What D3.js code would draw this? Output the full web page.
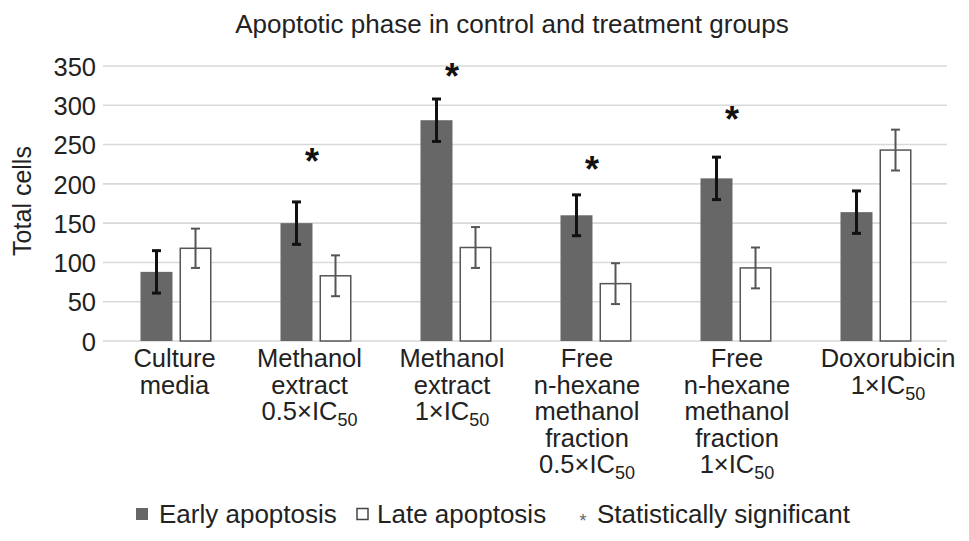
<!DOCTYPE html>
<html>
<head>
<meta charset="utf-8">
<script src="https://cdn.jsdelivr.net/npm/d3@7"></script>
<style>
  html, body { margin: 0; padding: 0; background: #fff; }
  svg { display: block; font-family: "Liberation Sans", Arial, Helvetica, sans-serif; }
</style>
</head>
<body>
<svg id="chart" width="969" height="541"></svg>
<script>
// ---- data ----
const categories = ["Culture media", "Methanol extract 0.5×IC50", "Methanol extract 1×IC50",
  "Free n-hexane methanol fraction 0.5×IC50", "Free n-hexane methanol fraction 1×IC50", "Doxorubicin 1×IC50"];
const labelLines = [
  ["Culture", "media"],
  ["Methanol", "extract", "0.5×IC|50"],
  ["Methanol", "extract", "1×IC|50"],
  ["Free", "n-hexane", "methanol", "fraction", "0.5×IC|50"],
  ["Free", "n-hexane", "methanol", "fraction", "1×IC|50"],
  ["Doxorubicin", "1×IC|50"]
];
const seriesNames = ["Early apoptosis", "Late apoptosis"];
const earlyValues = [88, 150, 281, 160, 207, 164];
const earlyErrors = [27, 27, 27, 26, 27, 27];
const lateValues = [118, 83, 119, 73, 93, 243];
const lateErrors = [25, 26, 26, 26, 26, 26];
const sigMarkLevel = [null, 237, 345, 227, 290, null];
const yTicks = [0, 50, 100, 150, 200, 250, 300, 350];
const titleText = "Apoptotic phase in control and treatment groups";
const yAxisTitle = "Total cells";
const sigLegend = "Statistically significant";

// ---- layout ----
const labelNudge = [-1.5, -6.5, -4, -9, 1, 12];
const svg = d3.select("#chart");
svg.append("rect").attr("width", 969).attr("height", 541).attr("fill", "#fff");

const y = d3.scaleLinear().domain([0, 350]).range([341, 66]);
const x0 = d3.scaleBand().domain(categories).range([106, 946]).padding(0);
const half = 35.5;
const x1 = d3.scaleBand().domain(["early", "late"])
  .range([x0.bandwidth() / 2 - half, x0.bandwidth() / 2 + half]).paddingInner(0.18);

const rows = categories.map((c, i) => ({
  cat: c, i,
  bars: [
    { key: "early", v: earlyValues[i], e: earlyErrors[i] },
    { key: "late", v: lateValues[i], e: lateErrors[i] }
  ]
}));

// y axis labels
const yAxis = d3.axisLeft(y).tickValues(yTicks).tickSize(0).tickPadding(0);
const gAxis = svg.append("g").attr("transform", "translate(96,0)").call(yAxis);
gAxis.select(".domain").remove();
gAxis.selectAll("text").attr("font-size", 25.5).attr("fill", "#222")
  .attr("font-family", "Liberation Sans, Arial, sans-serif").attr("dy", "0.36em");

// gridlines
svg.append("g").selectAll("line").data(yTicks).join("line")
  .attr("x1", 103).attr("x2", 947)
  .attr("y1", d => y(d)).attr("y2", d => y(d))
  .attr("stroke", "#d9d9d9").attr("stroke-width", 1.6);

// bars
const groups = svg.append("g").selectAll("g").data(rows).join("g")
  .attr("transform", d => `translate(${x0(d.cat)},0)`);

groups.selectAll("rect").data(d => d.bars).join("rect")
  .attr("x", d => x1(d.key) + (d.key === "late" ? 0.75 : 0))
  .attr("width", d => x1.bandwidth() - (d.key === "late" ? 1.5 : 0))
  .attr("y", d => y(d.v))
  .attr("height", d => y(0) - y(d.v))
  .attr("fill", d => d.key === "early" ? "#676767" : "#fff")
  .attr("stroke", d => d.key === "early" ? "none" : "#555")
  .attr("stroke-width", 1.5);

// error bars
const eb = groups.selectAll("g.err").data(d => d.bars).join("g").attr("class", "err")
  .attr("stroke", d => d.key === "early" ? "#111" : "#555")
  .attr("stroke-width", d => d.key === "early" ? 3 : 2);
const cx = d => x1(d.key) + x1.bandwidth() / 2;
eb.append("line")
  .attr("x1", cx).attr("x2", cx)
  .attr("y1", d => y(d.v + d.e)).attr("y2", d => y(d.v - d.e));
eb.append("line")
  .attr("x1", d => cx(d) - 4.5).attr("x2", d => cx(d) + 4.5)
  .attr("y1", d => y(d.v + d.e)).attr("y2", d => y(d.v + d.e));
eb.append("line")
  .attr("x1", d => cx(d) - 4.5).attr("x2", d => cx(d) + 4.5)
  .attr("y1", d => y(d.v - d.e)).attr("y2", d => y(d.v - d.e));

// significance asterisks
svg.append("g").selectAll("text").data(rows.filter(d => sigMarkLevel[d.i] != null)).join("text")
  .attr("x", d => x0(d.cat) + x0.bandwidth() / 2 - 4)
  .attr("y", d => y(sigMarkLevel[d.i]) + 19)
  .attr("text-anchor", "middle")
  .attr("font-size", 36).attr("font-weight", "bold").attr("fill", "#111")
  .text("*");

// x labels
const lineH = 26.5;
const xl = svg.append("g").selectAll("text").data(rows).join("text")
  .attr("text-anchor", "middle")
  .attr("font-size", 25.5).attr("fill", "#222");
xl.each(function(d) {
  const t = d3.select(this);
  const lx = x0(d.cat) + x0.bandwidth() / 2 + labelNudge[d.i];
  labelLines[d.i].forEach((ln, k) => {
    const parts = ln.split("|");
    t.append("tspan").attr("x", lx).attr("y", 367 + k * lineH).text(parts[0]);
    if (parts[1]) {
      t.append("tspan").attr("dy", 6).attr("font-size", 18).text(parts[1]);
    }
  });
});

// y axis title
svg.append("text")
  .attr("transform", "translate(31,201) rotate(-90)")
  .attr("text-anchor", "middle").attr("font-size", 25).attr("fill", "#222")
  .text(yAxisTitle);

// title
svg.append("text").attr("x", 512).attr("y", 33)
  .attr("text-anchor", "middle").attr("font-size", 26).attr("fill", "#222")
  .text(titleText);

// legend
const leg = svg.append("g");
leg.append("rect").attr("x", 136).attr("y", 508).attr("width", 12).attr("height", 12).attr("fill", "#676767");
leg.append("text").attr("x", 159).attr("y", 523).attr("font-size", 26).attr("fill", "#222").text(seriesNames[0]);
leg.append("rect").attr("x", 357).attr("y", 508.5).attr("width", 11).attr("height", 11)
  .attr("fill", "#fff").attr("stroke", "#444").attr("stroke-width", 1.5);
leg.append("text").attr("x", 377).attr("y", 523).attr("font-size", 26).attr("fill", "#222").text(seriesNames[1]);
leg.append("text").attr("x", 583).attr("y", 527).attr("text-anchor", "middle").attr("font-size", 18).attr("fill", "#666").text("*");
leg.append("text").attr("x", 597).attr("y", 523).attr("font-size", 26).attr("fill", "#222").text(sigLegend);
</script>
</body>
</html>
